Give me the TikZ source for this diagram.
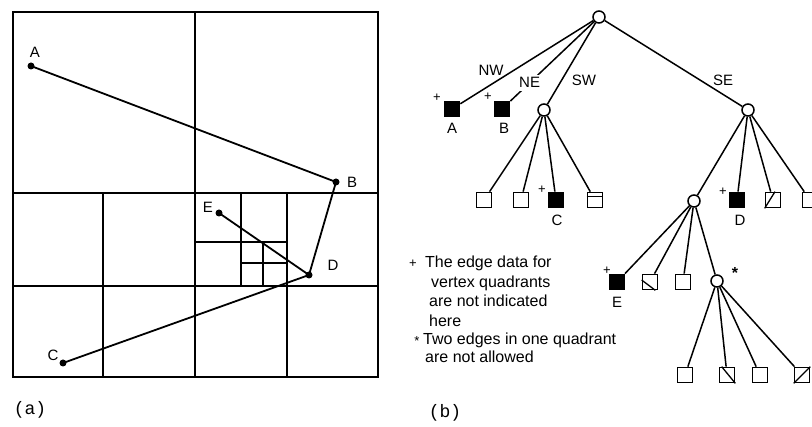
\documentclass[tikz,border=0pt]{standalone}
\usepackage{fontspec}
\setmainfont{Liberation Sans}
\newfontfamily\capfont{Liberation Mono}
\begin{document}
\begin{tikzpicture}[x=1pt,y=-1pt,
 grid/.style={line width=1.9pt},
 seg/.style={line width=1.8pt},
 dot/.style={circle,fill=black,inner sep=0pt,minimum size=7pt},
 lbl/.style={font=\fontsize{15}{17}\selectfont,inner sep=0pt},
 qc/.style={circle,draw,line width=1.5pt,minimum size=12pt,inner sep=0pt,fill=white},
 qb/.style={rectangle,draw,line width=1.7pt,minimum size=15pt,inner sep=0pt,fill=white},
 qf/.style={qb,fill=black},
 tedge/.style={line width=1.5pt},
 boxmark/.style={line width=1.3pt},
 plus/.style={font=\fontsize{13}{15}\selectfont,inner sep=0pt},
 legend/.style={font=\fontsize{16}{18}\selectfont,anchor=base west,inner sep=0pt},
 captxt/.style={font=\capfont\fontsize{18}{20}\selectfont,inner sep=0pt},
]
\clip (0,0) rectangle (812,427);
\fill[white] (0,0) rectangle (812,427);

% ---------- panel (a) ----------
\draw[grid] (13,12) rectangle (378,377);
\draw[grid] (195,12) -- (195,377);
\draw[grid] (13,193) -- (378,193);
\draw[grid] (13,286) -- (378,286);
\draw[grid] (103,193) -- (103,377);
\draw[grid] (287,193) -- (287,377);
\draw[grid] (241,193) -- (241,286);
\draw[grid] (195,242) -- (287,242);
\draw[grid] (263,242) -- (263,286);
\draw[grid] (241,263) -- (287,263);

\node[dot] (pA) at (31,66) {};
\node[dot] (pB) at (336,182) {};
\node[dot] (pC) at (63,363) {};
\node[dot] (pD) at (309,275) {};
\node[dot] (pE) at (219,213) {};
\draw[seg] (pA.center) -- (pB.center);
\draw[seg] (pB.center) -- (pD.center);
\draw[seg] (pE.center) -- (pD.center);
\draw[seg] (pD.center) -- (pC.center);
\node[lbl] (lA) at (35,52) {A};
\node[lbl] (lB) at (352,182) {B};
\node[lbl] (lC) at (53,355) {C};
\node[lbl] (lD) at (333,265) {D};
\node[lbl] (lE) at (208,207) {E};
\node[captxt] (capa) at (30,410) {(a)};

% ---------- panel (b) ----------
\node[qc] (root) at (599,17) {};
\node[qf] (tA) at (452,109) {};
\node[qf] (tB) at (502,109) {};
\node[qc] (sw) at (544,110) {};
\node[qc] (se) at (748,110) {};

\node[qb] (sw1) at (484,200) {};
\node[qb] (sw2) at (521,200) {};
\node[qf] (tC) at (556,200) {};
\node[qb] (sw4) at (595,200) {};

\node[qc] (sen) at (694,201) {};
\node[qf] (tD) at (737,200) {};
\node[qb] (se3) at (773,200) {};
\node[qb] (se4) at (810,200) {};

\node[qf] (tE) at (617,282) {};
\node[qb] (e2) at (650,282) {};
\node[qb] (e3) at (683,282) {};
\node[qc] (star) at (717,281) {};

\node[qb] (b1) at (685,375) {};
\node[qb] (b2) at (727,375) {};
\node[qb] (b3) at (760,375) {};
\node[qb] (b4) at (802,375) {};

\draw[tedge] (root) -- (tA);
\draw[tedge] (root) -- (tB) node[pos=0.77,lbl,fill=white,inner sep=3pt] (lNE) {NE};
\draw[tedge] (root) -- (sw);
\draw[tedge] (root) -- (se);
\foreach \c in {sw1,sw2,tC,sw4} \draw[tedge] (sw) -- (\c);
\foreach \c in {sen,tD,se3,se4} \draw[tedge] (se) -- (\c);
\foreach \c in {tE,e2,e3,star} \draw[tedge] (sen) -- (\c);
\foreach \c in {b1,b2,b3,b4} \draw[tedge] (star) -- (\c);

% marks inside boxes
\draw[boxmark] ([yshift=-5pt]sw4.north west) -- ([yshift=-5pt]sw4.north east);
\draw[boxmark] (se3.south west) -- ([xshift=2pt]se3.north);
\draw[boxmark] ([yshift=2pt]e2.west) -- ([xshift=-3pt]e2.south east);
\draw[boxmark] ([xshift=3pt]b2.north west) -- (b2.south east);
\draw[boxmark] (b4.south west) -- (b4.north east);

% labels
\node[lbl] (lNW) at (491,70) {NW};
\node[lbl] (lSW) at (584,80) {SW};
\node[lbl] (lSE) at (723,80) {SE};
\node[lbl] (ltA) at (452,128) {A};
\node[lbl] (ltB) at (504,128) {B};
\node[lbl] (ltC) at (557,220) {C};
\node[lbl] (ltD) at (740,220) {D};
\node[lbl] (ltE) at (617,302) {E};
\node[plus] (pl1) at (437,98) {+};
\node[plus] (pl2) at (488,97) {+};
\node[plus] (pl3) at (542,190) {+};
\node[plus] (pl4) at (723,192) {+};
\node[plus] (pl5) at (607,271) {+};
\node[plus,font=\bfseries\fontsize{16}{18}\selectfont] (ast) at (735,273) {*};

% legend
\node[plus] (lg0) at (413,264) {+};
\node[legend] (lg1) at (425,268) {The edge data for};
\node[legend] (lg2) at (431,288) {vertex quadrants};
\node[legend] (lg3) at (429,307) {are not indicated};
\node[legend] (lg4) at (429,327) {here};
\node[plus] (lg5) at (417,341) {*};
\node[legend] (lg6) at (423,345) {Two edges in one quadrant};
\node[legend] (lg7) at (425,363) {are not allowed};

\node[captxt] (capb) at (445,413) {(b)};
\end{tikzpicture}
\end{document}
